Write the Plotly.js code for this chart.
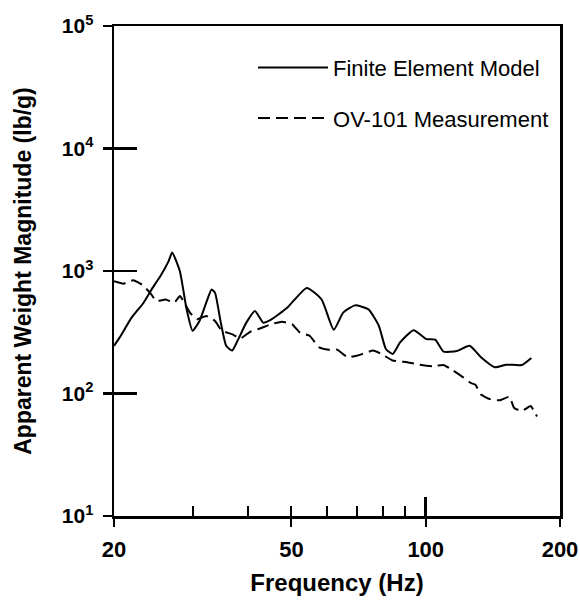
<!DOCTYPE html>
<html>
<head>
<meta charset="utf-8">
<script src="https://cdn.plot.ly/plotly-3.0.1.min.js"></script>
<style>
  html, body { margin: 0; padding: 0; background: #fff; }
  #chart { width: 580px; height: 603px; }
</style>
</head>
<body>
<div id="chart"></div>
<script>
// ---- Data ----
const modelName = "Finite Element Model";
const measName = "OV-101 Measurement";

const freqModel = [20, 20.6, 21.9, 23.3, 24.4, 25.4, 26.5, 27.0, 28.1, 29.1, 30.0, 31.1, 32.2, 33.1, 33.7, 34.6, 35.7, 36.8, 38.0, 39.6, 41.4, 43.2, 44.9, 48.9, 54.1, 58.4, 62.2, 65.3, 69.4, 74.4, 78.5, 81.4, 84.3, 87.6, 93.9, 100.4, 105, 109.6, 117.4, 125.4, 133, 142.8, 151.6, 164.3, 172.5];
const magModel  = [245, 287, 416, 551, 728, 906, 1197, 1416, 995, 486, 325, 391, 551, 706, 663, 404, 245, 224, 278, 379, 472, 379, 399, 501, 728, 586, 331, 457, 524, 486, 357, 231, 210, 261, 329, 278, 275, 220, 222, 245, 198, 164, 172, 171, 195];

const freqMeas = [20, 21, 22.1, 23.1, 24.1, 24.9, 26.1, 27.3, 28.1, 28.9, 29.6, 30.7, 32.2, 33.7, 34.9, 36.8, 38.4, 40.4, 42.5, 44.9, 47.6, 50.2, 52.2, 54.9, 57.7, 60.6, 63.3, 66.8, 70.3, 76.2, 79.6, 84.3, 90.9, 97.0, 103.6, 109.6, 115.2, 121.1, 126.1, 129.2, 133, 139.2, 146.4, 154, 157.9, 164.5, 171.8, 177.6];
const magMeas  = [826, 788, 842, 774, 663, 569, 586, 551, 624, 533, 457, 404, 430, 391, 325, 305, 281, 319, 339, 367, 385, 367, 315, 296, 238, 228, 228, 198, 204, 224, 210, 186, 180, 172, 167, 171, 154, 136, 122, 118, 98, 90, 88, 94, 76, 72, 79, 65];

const xTickVals = [20, 50, 100, 200];
const xTickText = ["20", "50", "100", "200"];
const xMinorVals = [30, 40, 50, 60, 70, 80, 90];
const xMidVals = [100];
const yTickVals = [10, 100, 1000, 10000, 100000];
const yTickText = ["10<sup>1</sup>", "10<sup>2</sup>", "10<sup>3</sup>", "10<sup>4</sup>", "10<sup>5</sup>"];
const yInnerVals = [100, 1000, 10000];

const xTitle = "Frequency (Hz)";
const yTitle = "Apparent Weight Magnitude (lb/g)";

// ---- Chart ----
const FONT = "Liberation Sans, Arial, Helvetica, sans-serif";
const xRange = [Math.log10(20), Math.log10(200)];
const yRange = [1, 5];

const traces = [
  { x: freqModel, y: magModel, name: modelName, type: "scatter", mode: "lines",
    line: { color: "#000", width: 2, shape: "spline", smoothing: 0.5 }, legendgroup: "a", hoverinfo: "skip" },
  { x: freqMeas, y: magMeas, name: measName, type: "scatter", mode: "lines",
    line: { color: "#000", width: 2, dash: "12px,6px", shape: "spline", smoothing: 0.4 }, legendgroup: "b", hoverinfo: "skip" },
  { x: [], y: [], xaxis: "x2", yaxis: "y2", showlegend: false, hoverinfo: "skip", type: "scatter", mode: "lines" },
  { x: [], y: [], xaxis: "x3", yaxis: "y2", showlegend: false, hoverinfo: "skip", type: "scatter", mode: "lines" }
];

const baseX = { type: "log", range: xRange, autorange: false, fixedrange: true, showgrid: false, zeroline: false };
const baseY = { type: "log", range: yRange, autorange: false, fixedrange: true, showgrid: false, zeroline: false };

const layout = {
  width: 580, height: 603,
  margin: { l: 114, r: 20, t: 26, b: 87 },
  paper_bgcolor: "#fff", plot_bgcolor: "#fff",
  font: { family: FONT, color: "#000" },
  showlegend: true,
  legend: {
    x: 0.3117, xanchor: "left", y: 0.958, yanchor: "top",
    bgcolor: "rgba(0,0,0,0)", borderwidth: 0,
    font: { family: FONT, size: 22, color: "#000" },
    traceorder: "grouped", tracegroupgap: 19, itemwidth: 70
  },
  xaxis: Object.assign({}, baseX, {
    showline: true, linecolor: "#000", linewidth: 2.5, mirror: true,
    tickmode: "array", tickvals: xTickVals, ticktext: xTickText,
    ticks: "outside", ticklen: 8, tickwidth: 2, tickcolor: "#000",
    ticklabelstandoff: 4,
    tickfont: { family: FONT, size: 22, weight: "bold", color: "#000" },
    title: { text: xTitle, standoff: 14, font: { family: FONT, size: 24, weight: "bold", color: "#000" } }
  }),
  xaxis2: Object.assign({}, baseX, {
    overlaying: "x", anchor: "y", side: "bottom", showline: false,
    tickmode: "array", tickvals: xMinorVals, ticks: "inside", ticklen: 10, tickwidth: 2, tickcolor: "#000",
    showticklabels: false
  }),
  xaxis3: Object.assign({}, baseX, {
    overlaying: "x", anchor: "y", side: "bottom", showline: false,
    tickmode: "array", tickvals: xMidVals, ticks: "inside", ticklen: 19, tickwidth: 2.5, tickcolor: "#000",
    showticklabels: false
  }),
  yaxis: Object.assign({}, baseY, {
    showline: true, linecolor: "#000", linewidth: 2.5, mirror: true,
    tickmode: "array", tickvals: yTickVals, ticktext: yTickText,
    ticks: "outside", ticklen: 9, tickwidth: 2.5, tickcolor: "#000",
    ticklabelstandoff: 5,
    tickfont: { family: FONT, size: 21, weight: "bold", color: "#000" },
    title: { text: yTitle, standoff: 24, font: { family: FONT, size: 23, weight: "bold", color: "#000" } }
  }),
  yaxis2: Object.assign({}, baseY, {
    overlaying: "y", anchor: "x", side: "left", showline: false,
    tickmode: "array", tickvals: yInnerVals, ticks: "inside", ticklen: 23, tickwidth: 2.5, tickcolor: "#000",
    showticklabels: false
  })
};

Plotly.newPlot("chart", traces, layout, { staticPlot: true, displayModeBar: false });
</script>
</body>
</html>
